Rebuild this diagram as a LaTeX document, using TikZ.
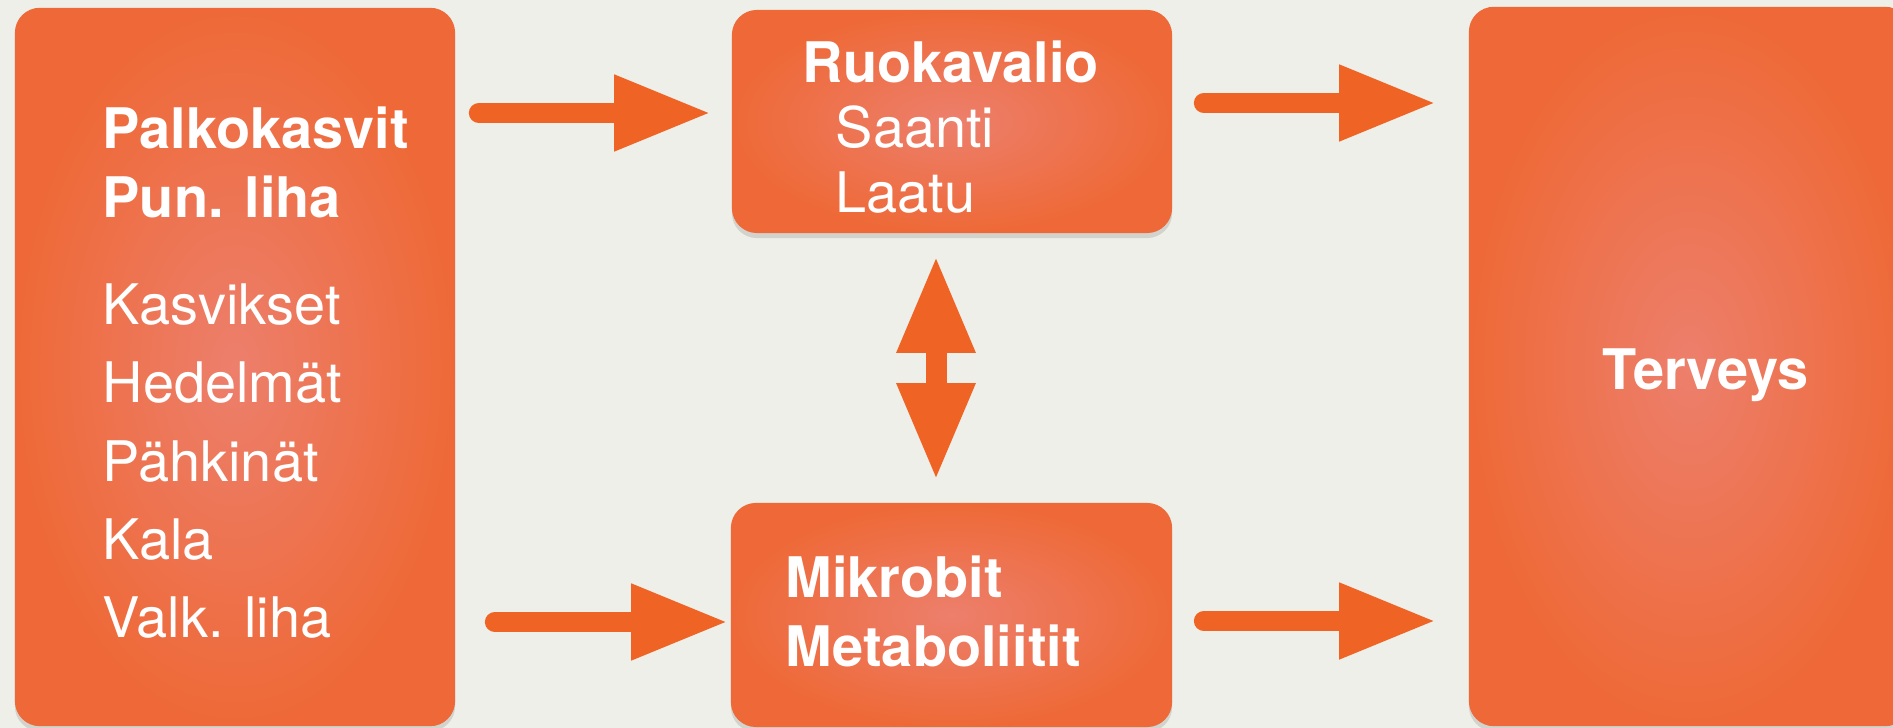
\documentclass[tikz,border=0pt]{standalone}
\usepackage{fontspec}
\setmainfont{TeX Gyre Heros}
\usetikzlibrary{arrows.meta, positioning, shadows, calc}

\definecolor{bgc}{RGB}{239,239,233}
\definecolor{boxout}{RGB}{238,105,55}
\definecolor{boxin}{RGB}{237,127,108}
\definecolor{arrowc}{RGB}{239,100,37}

\begin{document}
\begin{tikzpicture}[x=0.01cm, y=-0.01cm,
box/.style={rectangle, rounded corners=0.25cm, shading=radial, inner color=boxin, outer color=boxout, drop shadow={shadow xshift=0cm, shadow yshift=-0.05cm, opacity=0.25}, inner sep=0pt},
txt/.style={text=white, align=left, anchor=base west, inner sep=0pt},
fatarrow/.style={draw=arrowc, line width=0.2cm, line cap=round, -{Triangle[length=0.97cm, width=0.71cm]}},
dblarrow/.style={draw=arrowc, line width=0.21cm, {Triangle[length=0.97cm, width=0.73cm]}-{Triangle[length=0.97cm, width=0.73cm]}}
]
\useasboundingbox (0,0) rectangle (1893,728);
\fill[bgc] (0,0) rectangle (1893,728);

\node[box, minimum width=4.4cm, minimum height=7.18cm] (pulse) at (235,367) {};
\node[box, minimum width=4.4cm, minimum height=2.23cm] (diet) at (952,121.5) {};
\node[box, minimum width=4.41cm, minimum height=2.24cm] (microbes) at (951.5,615) {};
\node[box, minimum width=4.41cm, minimum height=7.19cm] (health) at (1689.5,366.5) {};

% base = last line
\node[txt, font=\fontsize{15.9pt}{19.6pt}\selectfont] (foods) at (102,638) {\textbf{Palkokasvit}\\\textbf{Pun. liha}\\[10.8pt]Kasvikset\\[2.7pt]Hedelmät\\[2.7pt]Pähkinät\\[2.7pt]Kala\\[2.7pt]Valk. liha};
\node[txt, font=\fontsize{15.9pt}{18.5pt}\selectfont] (dietlbl) at (802,213) {\textbf{Ruokavalio}\\\hspace*{0.33cm}Saanti\\\hspace*{0.33cm}Laatu};
\node[txt, font=\fontsize{15.9pt}{19.9pt}\selectfont\bfseries] (microlbl) at (785,667) {Mikrobit\\Metaboliitit};
\node[txt, font=\fontsize{15.9pt}{19.6pt}\selectfont\bfseries] (healthlbl) at (1602,390) {Terveys};

\draw[fatarrow, shorten <=0.23cm, shorten >=0.2cm] ($(pulse.east |- diet.west)+(0,-8.5)$) -- ($(diet.west)+(0,-8.5)$);
\draw[fatarrow, shorten <=0.31cm, shorten >=0.32cm] ($(diet.east)+(0,-18.5)$) -- ($(health.west |- diet.east)+(0,-18.5)$);
\draw[fatarrow, shorten <=0.39cm, shorten >=0.02cm] ($(pulse.east |- microbes.west)+(0,7)$) -- ($(microbes.west)+(0,7)$);
\draw[fatarrow, shorten <=0.31cm, shorten >=0.32cm] ($(microbes.east)+(0,6)$) -- ($(health.west |- microbes.east)+(0,6)$);
\draw[dblarrow, shorten <=0.22cm, shorten >=0.22cm] ($(diet.south)+(-16,0)$) -- ($(microbes.north)+(-15.5,0)$);

\end{tikzpicture}
\end{document}
